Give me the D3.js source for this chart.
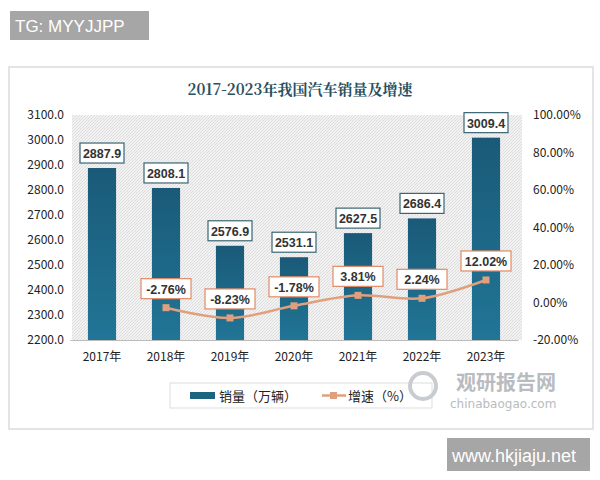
<!DOCTYPE html><html><head><meta charset="utf-8"><script src="https://cdn.jsdelivr.net/npm/d3@7"></script>
<style>body{margin:0;background:#fff;font-family:"Liberation Sans",Arial,sans-serif}</style></head><body>
<svg id="c" width="600" height="480"></svg>
<script>
const years=["2017年","2018年","2019年","2020年","2021年","2022年","2023年"];
const sales=[2887.9,2808.1,2576.9,2531.1,2627.5,2686.4,3009.4];
const growth=[null,-2.76,-8.23,-1.78,3.81,2.24,12.02];
const leftTicks=[2200,2300,2400,2500,2600,2700,2800,2900,3000,3100];
const rightTicks=[-20,0,20,40,60,80,100];
const svg=d3.select("#c");
const defs=svg.append("defs");
const p=defs.append("pattern").attr("id","h").attr("width",3).attr("height",3).attr("patternUnits","userSpaceOnUse");
p.append("rect").attr("width",3).attr("height",3).attr("fill","#f2f2f2");
p.append("path").attr("d","M0,3L3,0").attr("stroke","#d8d8d8").attr("stroke-width",0.8);
svg.append("rect").attr("x",0).attr("y",0).attr("width",600).attr("height",480).attr("fill","#fff");
svg.append("rect").attr("x",10).attr("y",11).attr("width",139).attr("height",29).attr("fill","#a6a6a6");
svg.append("text").attr("x",15).attr("y",32).attr("fill","#fff").attr("font-size",17).text("TG: MYYJJPP");
svg.append("rect").attr("x",447).attr("y",438).attr("width",143).attr("height",33).attr("fill","#a6a6a6");
svg.append("text").attr("x",452).attr("y",462).attr("fill","#fff").attr("font-size",18).text("www.hkjiaju.net");
svg.append("rect").attr("x",9).attr("y",67).attr("width",584).attr("height",362).attr("fill","#fff").attr("stroke","#e4e4e4").attr("stroke-width",2);
svg.append("text").attr("x",300).attr("y",95).attr("text-anchor","middle").attr("font-family","'Noto Serif CJK SC','Noto Sans CJK SC',serif").attr("font-weight","bold").attr("font-size",15).attr("fill","#2a4f5e").text("2017-2023年我国汽车销量及增速");
const x=d3.scaleBand().domain(years).range([70,518]).paddingInner(0.56).paddingOuter(0.28);
const y=d3.scaleLinear().domain([2200,3100]).range([340,115]);
const y2=d3.scaleLinear().domain([-20,100]).range([340,115]);
svg.append("rect").attr("x",72).attr("y",115).attr("width",450).attr("height",225).attr("fill","url(#h)");
const cjk="'Noto Sans CJK SC',sans-serif";
const la=svg.append("g").attr("transform","translate(72,0)").call(d3.axisLeft(y).tickValues(leftTicks).tickFormat(d3.format(".1f")).tickSize(0).tickPadding(8));
la.select(".domain").remove();
la.selectAll("text").attr("font-size",12).attr("fill","#222").attr("font-family",cjk);
const ra=svg.append("g").attr("transform","translate(527,0)").call(d3.axisRight(y2).tickValues(rightTicks).tickFormat(d=>d.toFixed(2)+"%").tickSize(0).tickPadding(6));
ra.select(".domain").remove();
ra.selectAll("text").attr("font-size",12).attr("fill","#222").attr("font-family",cjk);
const ba=svg.append("g").attr("transform","translate(0,340)").call(d3.axisBottom(x).tickSize(0).tickPadding(12));
ba.select(".domain").attr("stroke","#bbb");
ba.selectAll("text").attr("font-size",12).attr("fill","#222").attr("font-family",cjk);
const grad=defs.append("linearGradient").attr("id","g").attr("x1",0).attr("x2",0).attr("y1",0).attr("y2",1);
grad.append("stop").attr("offset","0").attr("stop-color","#1a5a78");
grad.append("stop").attr("offset","1").attr("stop-color","#217596");
svg.selectAll(".bar").data(sales).join("rect").attr("x",(d,i)=>x(years[i])).attr("width",x.bandwidth()).attr("y",d=>y(d)).attr("height",d=>340-y(d)).attr("fill","url(#g)");
sales.forEach((d,i)=>{const cx=x(years[i])+x.bandwidth()/2,cy=y(d)-14;
svg.append("rect").attr("x",cx-22).attr("y",cy-11).attr("width",44).attr("height",20).attr("fill","#fff").attr("stroke","#3a6575").attr("stroke-width",1.2);
svg.append("text").attr("x",cx).attr("y",cy+4).attr("text-anchor","middle").attr("font-size",12.5).attr("font-weight","bold").attr("fill","#333").text(d.toFixed(1));});
const pts=growth.map((g,i)=>g==null?null:[x(years[i])+x.bandwidth()/2,y2(g)]).filter(d=>d);
svg.append("path").attr("d",d3.line().curve(d3.curveCatmullRom)(pts)).attr("fill","none").attr("stroke","#e0a07e").attr("stroke-width",2.5);
svg.selectAll(".pt").data(pts).join("rect").attr("x",d=>d[0]-3.5).attr("y",d=>d[1]-3.5).attr("width",7).attr("height",7).attr("fill","#e0a07e");
growth.forEach((g,i)=>{if(g==null)return;const cx=x(years[i])+x.bandwidth()/2,cy=y2(g)-18;
svg.append("rect").attr("x",cx-25).attr("y",cy-11).attr("width",50).attr("height",20).attr("fill","#fff").attr("stroke","#e08a66").attr("stroke-width",1.2);
svg.append("text").attr("x",cx).attr("y",cy+4).attr("text-anchor","middle").attr("font-size",12.5).attr("font-weight","bold").attr("fill","#333").text(g.toFixed(2)+"%");});
svg.append("rect").attr("x",170).attr("y",383).attr("width",262).attr("height",25).attr("fill","#fff").attr("stroke","#ddd");
svg.append("rect").attr("x",190).attr("y",392).attr("width",25).attr("height",7).attr("fill","#1d6481");
svg.append("text").attr("x",219).attr("y",401).attr("font-size",13).attr("font-family",cjk).attr("fill","#222").text("销量（万辆）");
svg.append("line").attr("x1",322).attr("x2",346).attr("y1",395.5).attr("y2",395.5).attr("stroke","#e0a07e").attr("stroke-width",2.5);
svg.append("rect").attr("x",330).attr("y",392).attr("width",7).attr("height",7).attr("fill","#e0a07e");
svg.append("text").attr("x",348).attr("y",401).attr("font-size",13).attr("font-family",cjk).attr("fill","#222").text("增速（%）");
svg.append("text").attr("x",456).attr("y",390).attr("font-size",20).attr("font-weight","bold").attr("font-family",cjk).attr("fill","#b8bcc0").text("观研报告网");
svg.append("text").attr("x",450).attr("y",408).attr("font-size",12).attr("font-family","'DejaVu Sans'").attr("fill","#b8bcc0").text("chinabaogao.com");
svg.append("circle").attr("cx",423).attr("cy",386).attr("r",13).attr("fill","none").attr("stroke","#c8ccd0").attr("stroke-width",4);
</script></body></html>
